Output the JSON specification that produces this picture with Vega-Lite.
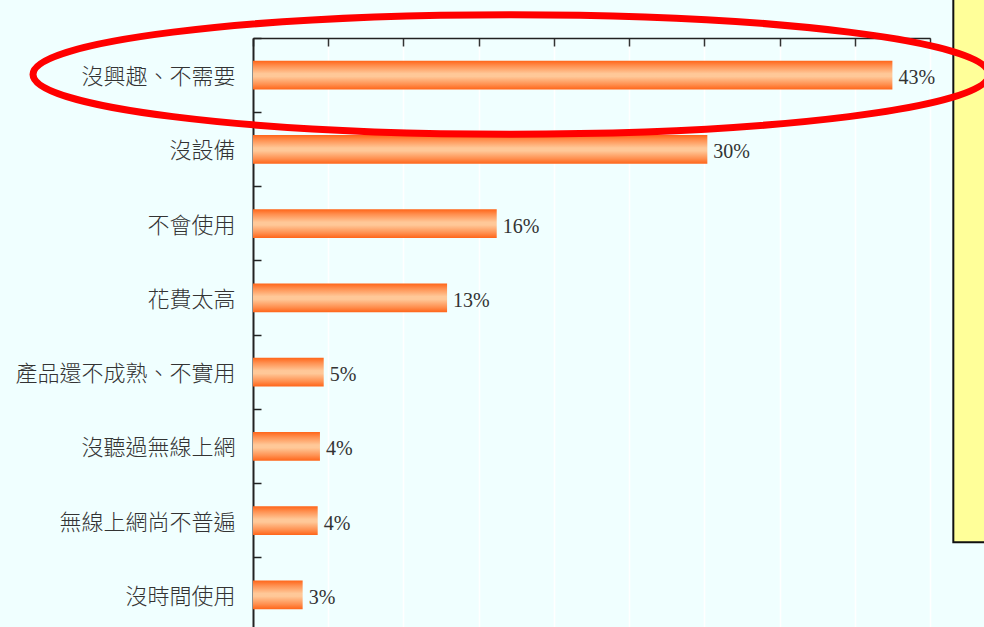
{
  "$schema": "https://vega.github.io/schema/vega-lite/v6.json",
  "width": 677,
  "height": 594,
  "autosize": {"type": "none"},
  "padding": {"left": 253, "top": 38, "right": 54, "bottom": -5},
  "background": "#F0FFFF",
  "config": {"view": {"stroke": "#111", "strokeWidth": 1}},
  "layer": [
    {
      "data": {"values": [
        {"reason": "沒興趣、不需要", "pct": 42.5, "label": "43%"},
        {"reason": "沒設備", "pct": 30.2, "label": "30%"},
        {"reason": "不會使用", "pct": 16.2, "label": "16%"},
        {"reason": "花費太高", "pct": 12.9, "label": "13%"},
        {"reason": "產品還不成熟、不實用", "pct": 4.7, "label": "5%"},
        {"reason": "沒聽過無線上網", "pct": 4.45, "label": "4%"},
        {"reason": "無線上網尚不普遍", "pct": 4.3, "label": "4%"},
        {"reason": "沒時間使用", "pct": 3.3, "label": "3%"}
      ]},
      "encoding": {
        "y": {"field": "reason", "type": "nominal", "sort": null, "title": null,
          "scale": {"type": "band", "paddingInner": 0.61, "paddingOuter": 0.305},
          "axis": {"orient": "left", "bandPosition": -0.78, "tickSize": -8, "tickColor": "#222", "tickWidth": 1.5,
            "domainColor": "#222", "domainWidth": 2, "labelPadding": 26, "labelLimit": 0, "labelOffset": 2, "labelFont": "Noto Sans CJK TC",
            "labelFontSize": 22, "labelFontWeight": 300, "labelColor": "#333", "grid": false}},
        "x": {"field": "pct", "type": "quantitative", "title": null,
          "scale": {"domain": [0, 45], "nice": false},
          "axis": {"orient": "top", "values": [0, 5, 10, 15, 20, 25, 30, 35, 40, 45], "labels": false,
            "tickSize": -8, "tickColor": "#333", "tickWidth": 1.5, "domainColor": "#222", "domainWidth": 1.5,
            "grid": true, "gridColor": "#FFFFFF", "gridWidth": 1.5}}
      },
      "layer": [
        {"mark": {"type": "bar", "color": {"gradient": "linear", "x1": 0, "y1": 0, "x2": 0, "y2": 1,
          "stops": [
            {"offset": 0, "color": "#FF6418"},
            {"offset": 0.18, "color": "#FF9050"},
            {"offset": 0.45, "color": "#FFC898"},
            {"offset": 0.55, "color": "#FFC898"},
            {"offset": 0.82, "color": "#FF9050"},
            {"offset": 1, "color": "#FF6418"}]}}},
        {"mark": {"type": "text", "align": "left", "baseline": "middle", "dx": 6, "dy": 3, "font": "Liberation Serif", "fontSize": 20, "color": "#333"},
          "encoding": {"text": {"field": "label"}}}
      ]
    },
    {
      "encoding": {},
      "layer": [
        {
          "data": {"values": [{"x1": 46.55, "x2": 60, "y1": -0.6, "y2": 6.79}]},
          "mark": {"type": "rect", "fill": "#FFFF99", "stroke": "#111", "strokeWidth": 2},
          "encoding": {
            "x": {"field": "x1", "type": "quantitative", "title": null, "scale": {"domain": [0, 45], "nice": false}},
            "x2": {"field": "x2"},
            "y": {"field": "y1", "type": "quantitative", "title": null, "axis": null, "scale": {"domain": [0, 8], "reverse": true, "nice": false, "zero": false}},
            "y2": {"field": "y2"}
          }
        },
        {
          "data": {"values": [{"cx": 17.15, "cy": 0.49}]},
          "mark": {"type": "point", "filled": false, "stroke": "#FF0000", "strokeWidth": 7, "opacity": 1,
            "shape": "M-1,0 A1,0.125 0 1,0 1,0 A1,0.125 0 1,0 -1,0 Z", "size": 913936},
          "encoding": {
            "x": {"field": "cx", "type": "quantitative", "title": null, "scale": {"domain": [0, 45], "nice": false}},
            "y": {"field": "cy", "type": "quantitative", "title": null, "axis": null, "scale": {"domain": [0, 8], "reverse": true, "nice": false, "zero": false}}
          }
        }
      ]
    }
  ],
  "resolve": {"scale": {"y": "independent"}}
}
